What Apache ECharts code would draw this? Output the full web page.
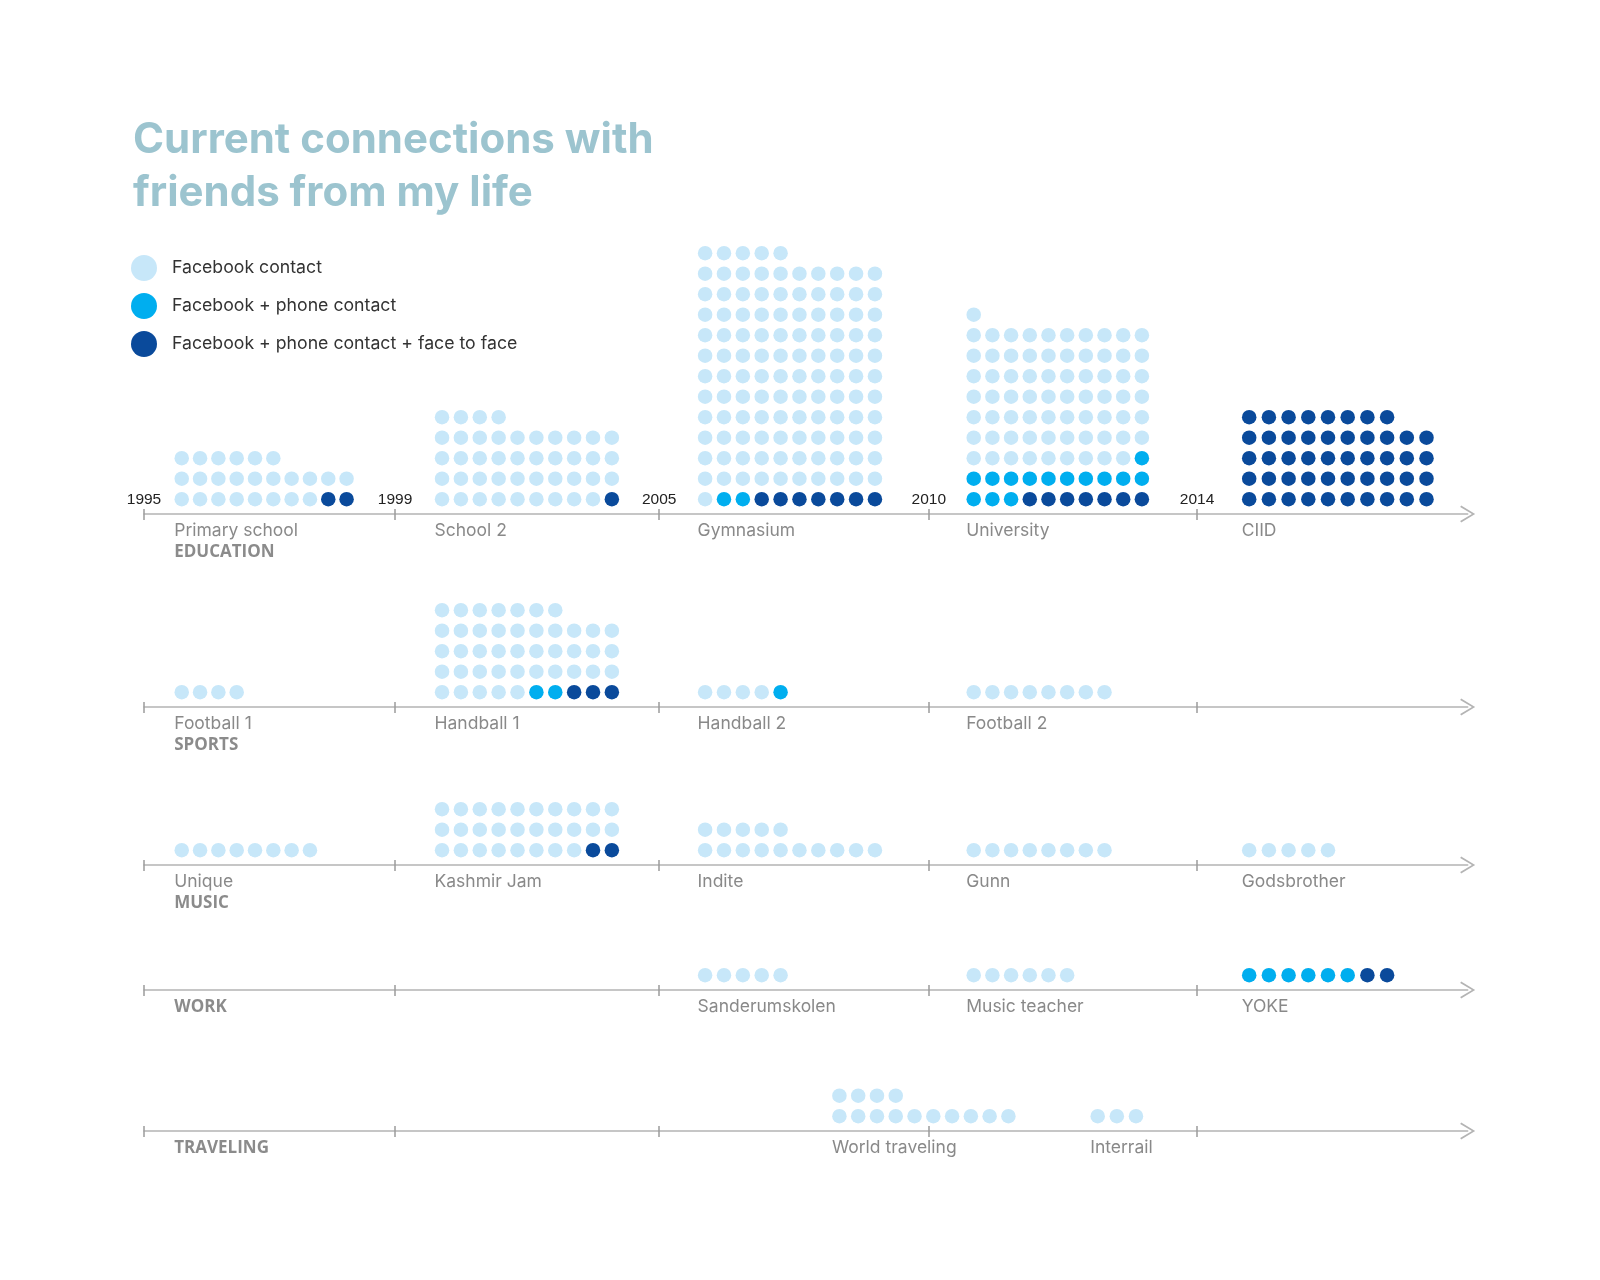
<!DOCTYPE html>
<html>
<head>
<meta charset="utf-8">
<title>Current connections with friends from my life</title>
<script src="https://cdn.jsdelivr.net/npm/echarts@6/dist/echarts.min.js"></script>
<style>
  html, body { margin: 0; padding: 0; background: #fff; }
  #chart { width: 1600px; height: 1280px; }
</style>
</head>
<body>
<div id="chart"></div>
<script>
// ---- data ----
var periods = ['1995', '1999', '2005', '2010', '2014'];
var categories = ['EDUCATION', 'SPORTS', 'MUSIC', 'WORK', 'TRAVELING'];
var contactTypes = ['Facebook contact', 'Facebook + phone contact', 'Facebook + phone contact + face to face'];

var groupNames = ['Primary school', 'School 2', 'Gymnasium', 'University', 'CIID',
                  'Football 1', 'Handball 1', 'Handball 2', 'Football 2',
                  'Unique', 'Kashmir Jam', 'Indite', 'Gunn', 'Godsbrother',
                  'Sanderumskolen', 'Music teacher', 'YOKE',
                  'World traveling', 'Interrail'];
var groupCategory = [0, 0, 0, 0, 0,  1, 1, 1, 1,  2, 2, 2, 2, 2,  3, 3, 3,  4, 4];
// period index on the timeline (travel happened in between)
var groupPeriod   = [0, 1, 2, 3, 4,  0, 1, 2, 3,  0, 1, 2, 3, 4,  2, 3, 4,  2.5, 3.45];
var facebookOnly  = [24, 43, 116, 70, 0,  4, 42, 4, 8,  8, 28, 15, 8, 5,  5, 6, 0,  14, 3];
var plusPhone     = [0, 0, 2, 14, 0,      0, 2, 1, 0,   0, 0, 0, 0, 0,    0, 0, 6,  0, 0];
var faceToFace    = [2, 1, 7, 7, 48,      0, 3, 0, 0,   0, 2, 0, 0, 0,    0, 0, 2,  0, 0];

// ---- layout ----
var colors = ['#c7e7f9', '#00aeef', '#0a4a9b'];
var PER_ROW = 10;
var DOT_PX = 18.5, ROW_PX = 20.5, ROW_BASE = 0.72;
var AXIS_X0 = 144, AXIS_COLS = 71.55;
var axisY = [514, 707, 865, 990, 1131];
var gridRows = [14, 6, 4, 2, 3];
var tickCols = [0, 13.57, 27.85, 42.42, 56.92];
var padCols = [2.04, 2.54, 2.48, 2.43, 2.82];
var colStep = [0.99, 1.02, 1.02, 1.01, 1.065];
var CHEVRON = 'path://M8.5,0 L17,14 L15.6,15 L8.5,3.2 L1.4,15 L0,14 Z';
var FONT = 'Inter';
var AXIS_GREY = '#b4b4b4', TICK_GREY = '#9c9c9c';

function interp(arr, p) {
    var i = Math.min(Math.floor(p), arr.length - 2);
    var f = p - i;
    return arr[i] + (arr[i + 1] - arr[i]) * f;
}

function startCol(p) {
    return interp(tickCols, p) + interp(padCols, p);
}

var grids = [], xAxes = [], yAxes = [], series = [];

categories.forEach(function (cat, ci) {
    grids.push({
        left: AXIS_X0,
        top: axisY[ci] - gridRows[ci] * ROW_PX,
        width: AXIS_COLS * DOT_PX,
        height: gridRows[ci] * ROW_PX,
        outerBoundsMode: 'none'
    });
    // main timeline axis
    xAxes.push({
        gridIndex: ci,
        type: 'value',
        position: 'bottom',
        offset: 0,
        min: 0,
        max: AXIS_COLS,
        splitLine: { show: false },
        axisLine: {
            show: true,
            onZero: false,
            symbol: ['none', CHEVRON],
            symbolSize: [17, 15],
            lineStyle: { color: AXIS_GREY, width: 1.5 }
        },
        axisTick: {
            show: true,
            customValues: tickCols,
            length: 6,
            lineStyle: { color: TICK_GREY, width: 1.5 }
        },
        axisLabel: ci === 0 ? {
            show: true,
            customValues: tickCols,
            inside: true,
            margin: 6,
            fontFamily: 'Liberation Sans',
            fontSize: 15.5,
            color: '#222',
            formatter: function (v) {
                var best = 0;
                tickCols.forEach(function (t, k) {
                    if (Math.abs(t - v) < Math.abs(tickCols[best] - v)) best = k;
                });
                return periods[best];
            }
        } : { show: false }
    });
    // same axis again, only for the upper half of the tick marks
    xAxes.push({
        gridIndex: ci,
        type: 'value',
        position: 'bottom',
        offset: 0,
        min: 0,
        max: AXIS_COLS,
        splitLine: { show: false },
        axisLine: { show: false, onZero: false },
        axisTick: {
            show: true,
            inside: true,
            customValues: tickCols,
            length: 5,
            lineStyle: { color: TICK_GREY, width: 1.5 }
        },
        axisLabel: { show: false }
    });
    yAxes.push({ gridIndex: ci, type: 'value', min: 0, max: gridRows[ci], show: false });

    var dots = [[], [], []];
    var labels = [];
    var hasFirst = false;

    groupNames.forEach(function (name, gi) {
        if (groupCategory[gi] !== ci) return;
        var p = groupPeriod[gi];
        var x0 = startCol(p);
        var step = interp(colStep, p);
        if (p === 0) hasFirst = true;
        var n = facebookOnly[gi] + plusPhone[gi] + faceToFace[gi];
        var cells = [];
        for (var i = 0; i < n; i++) {
            cells.push({ row: Math.floor(i / PER_ROW), col: i % PER_ROW });
        }
        // strongest contacts fill from the bottom right
        cells.sort(function (a, b) { return a.row - b.row || b.col - a.col; });
        cells.forEach(function (c, k) {
            var type = k < faceToFace[gi] ? 2 : (k < faceToFace[gi] + plusPhone[gi] ? 1 : 0);
            dots[type].push([x0 + c.col * step, ROW_BASE + c.row]);
        });
        labels.push({
            name: name,
            value: [x0, 0],
            label: { position: [-7, 17] }
        });
    });

    labels.push({
        name: cat,
        value: [startCol(0), 0],
        label: {
            position: [-7, hasFirst ? 38.5 : 18],
            fontFamily: 'Open Sans',
            fontWeight: 'bold',
            fontSize: 17,
            color: '#6e6e6e'
        }
    });

    contactTypes.forEach(function (t, k) {
        series.push({
            type: 'scatter',
            name: t,
            xAxisIndex: ci * 2,
            yAxisIndex: ci,
            symbolSize: 14.5,
            itemStyle: { color: colors[k], opacity: 1 },
            silent: true,
            data: dots[k]
        });
    });

    series.push({
        type: 'scatter',
        name: 'labels-' + ci,
        xAxisIndex: ci * 2,
        yAxisIndex: ci,
        symbolSize: 1,
        clip: false,
        silent: true,
        itemStyle: { color: 'rgba(0,0,0,0)' },
        label: {
            show: true,
            formatter: '{b}',
            align: 'left',
            verticalAlign: 'middle',
            fontFamily: FONT,
            fontSize: 17.5,
            color: '#6b6b6b'
        },
        data: labels
    });
});

var myChart = echarts.init(document.getElementById('chart'));
myChart.setOption({
    animation: false,
    backgroundColor: '#ffffff',
    title: {
        text: 'Current connections with\nfriends from my life',
        left: 128,
        top: 109,
        textStyle: {
            fontFamily: FONT,
            fontSize: 42,
            fontWeight: 700,
            color: '#9cc4cf',
            lineHeight: 53
        }
    },
    legend: {
        orient: 'vertical',
        left: 126,
        top: 250,
        itemWidth: 26,
        itemHeight: 26,
        itemGap: 12,
        icon: 'circle',
        selectedMode: false,
        data: contactTypes,
        textStyle: {
            fontFamily: FONT,
            fontSize: 17.7,
            color: '#333333',
            padding: [0, 0, 0, 10]
        }
    },
    grid: grids,
    xAxis: xAxes,
    yAxis: yAxes,
    series: series
});
</script>
</body>
</html>
